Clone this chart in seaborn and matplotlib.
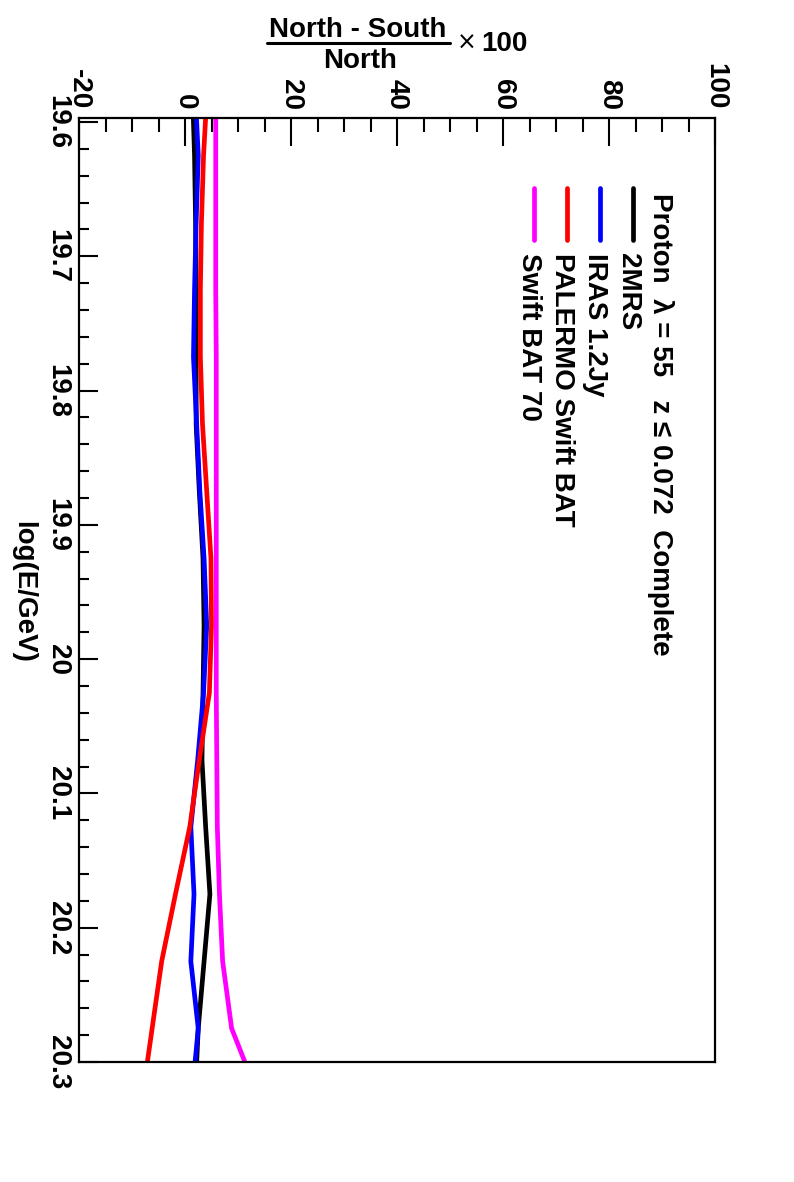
import matplotlib
matplotlib.use("Agg")
import matplotlib.pyplot as plt
from matplotlib.ticker import MultipleLocator
from matplotlib.lines import Line2D
import numpy as np
import pandas as pd
import seaborn as sns

# log(E/GeV) nodes of the curves (first and last lie outside the frame and get clipped)
log_e = [19.575, 19.625, 19.675, 19.725, 19.775, 19.825, 19.875, 19.925,
         19.975, 20.025, 20.075, 20.125, 20.175, 20.225, 20.275, 20.325]

# (North - South)/North x 100
mrs2 = [1.4, 1.8, 2.0, 2.1, 2.1, 2.1, 2.7, 3.4, 3.6, 3.4, 3.2, 3.9, 4.7, 3.6, 2.5, 1.9]
iras = [1.9, 2.5, 2.1, 1.8, 1.6, 2.2, 2.8, 3.6, 4.1, 3.5, 2.4, 1.1, 1.7, 1.1, 2.5, 1.3]
palermo = [4.2, 3.5, 3.1, 2.9, 2.9, 3.3, 4.1, 4.9, 5.0, 4.6, 2.7, 0.9, -1.8, -4.4, -6.2, -8.0]
swift70 = [5.8, 5.8, 5.8, 5.8, 5.9, 5.9, 5.9, 5.9, 5.9, 5.9, 6.0, 6.1, 6.5, 7.1, 8.8, 13.8]

names = ["2MRS", "IRAS 1.2Jy", "PALERMO Swift BAT", "Swift BAT 70"]
colors = ["black", "blue", "red", "magenta"]

df = pd.concat([
    pd.DataFrame({"logE": log_e, "asym": v, "catalog": n})
    for n, v in zip(names, [mrs2, iras, palermo, swift70])
])

sns.set_theme(style="white")
plt.rcParams["font.family"] = ["Liberation Sans", "DejaVu Sans"]
plt.rcParams["font.weight"] = "bold"
plt.rcParams["text.color"] = "black"
plt.rcParams["xtick.color"] = "black"
plt.rcParams["ytick.color"] = "black"
plt.rcParams["xtick.labelcolor"] = "black"
plt.rcParams["ytick.labelcolor"] = "black"

W, H = 794, 1182
fig = plt.figure(figsize=(W / 100, H / 100), dpi=100)


def fx(x):
    return x / W


def fy(y):
    return 1 - y / H


ax = fig.add_axes([fx(79), fy(1062), fx(715) - fx(79), fy(118) - fy(1062)])

sns.lineplot(data=df, x="asym", y="logE", hue="catalog", hue_order=names,
             palette=colors, orient="y", sort=False, estimator=None,
             lw=3.4, legend=False, ax=ax)

ax.set_xlim(-20, 100)
ax.set_ylim(20.3, 19.597)
ax.set_xlabel("")
ax.set_ylabel("")

for s in ax.spines.values():
    s.set_linewidth(1.6)
    s.set_color("black")

ax.xaxis.set_major_locator(MultipleLocator(20))
ax.xaxis.set_minor_locator(MultipleLocator(5))
ax.yaxis.set_major_locator(MultipleLocator(0.1))
ax.yaxis.set_minor_locator(MultipleLocator(0.02))
ax.tick_params(axis="x", which="both", top=True, bottom=False, labeltop=True,
               labelbottom=False, direction="in", width=1.5, color="black")
ax.tick_params(axis="x", which="major", length=20, pad=6, labelsize=20)
ax.tick_params(axis="x", which="minor", length=10)
ax.tick_params(axis="y", which="both", left=True, right=False, direction="in",
               width=1.5, color="black")
ax.tick_params(axis="y", which="major", length=13.5, pad=6, labelsize=20)
ax.tick_params(axis="y", which="minor", length=7)

xt = [-20, 0, 20, 40, 60, 80, 100]
ax.set_xticks(xt)
ax.set_xticklabels([str(v) for v in xt], rotation=-90, fontweight="bold")
yt = [19.6, 19.7, 19.8, 19.9, 20.0, 20.1, 20.2, 20.3]
ax.set_yticks(yt)
ax.set_yticklabels(["19.6", "19.7", "19.8", "19.9", "20", "20.1", "20.2", "20.3"],
                   rotation=-90, va="center", fontweight="bold")

# energy axis title
fig.text(fx(23), fy(592), "log(E/GeV)", rotation=-90, ha="center", va="center",
         fontsize=20, fontweight="bold")

# percentage axis title as a fraction
fig.text(fx(358), fy(37), "North - South", ha="center", va="baseline",
         fontsize=20, fontweight="bold")
fig.text(fx(360), fy(68), "North", ha="center", va="baseline",
         fontsize=20, fontweight="bold")
fig.add_artist(Line2D([fx(267), fx(450)], [fy(43), fy(43)], color="black", lw=2.2))
fig.text(fx(457), fy(43), "\u00d7", ha="left", va="center", fontsize=17,
         fontweight="normal", family="DejaVu Sans")
fig.text(fx(481), fy(51), "100", ha="left", va="baseline", fontsize=20,
         fontweight="bold")

# legend drawn by hand, rotated like the rest of the page
fig.text(fx(653), fy(193), "Proton  \u03bb = 55   z \u2264 0.072  Complete",
         rotation=-90, rotation_mode="anchor", ha="left", va="baseline",
         fontsize=20, fontweight="bold")
for i, (n, c) in enumerate(zip(names, colors)):
    lx = 633 - 33 * i
    fig.add_artist(Line2D([fx(lx), fx(lx)], [fy(188), fy(240)], color=c, lw=3.4))
    fig.text(fx(lx - 12), fy(253), n, rotation=-90, rotation_mode="anchor",
             ha="left", va="baseline", fontsize=20, fontweight="bold")

fig.savefig("out.png", dpi=100, facecolor="white")
